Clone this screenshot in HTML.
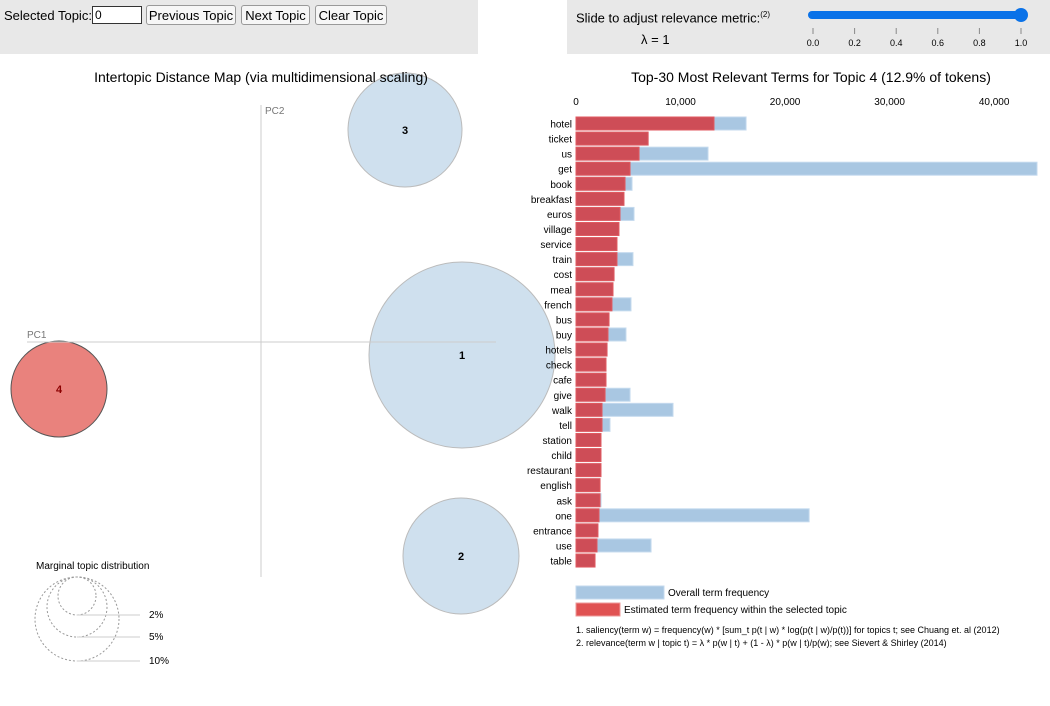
<!DOCTYPE html>
<html><head><meta charset="utf-8"><style>
body{margin:0;width:1050px;height:706px;background:#fff;font-family:"Liberation Sans",sans-serif;overflow:hidden;position:relative}
.panel{position:absolute;background:#e8e8e8}
button{font-family:"Liberation Sans",sans-serif;font-size:13px;height:20px;padding:0;border:1px solid #999;border-radius:3px;background:#f6f6f6;position:absolute;top:5px;text-align:center}
</style></head><body>
<div class="panel" style="left:0;top:0;width:478px;height:54px">
<span style="position:absolute;left:4px;top:8px;font-size:13px">Selected Topic:</span>
<input value="0" style="position:absolute;left:92px;top:6px;width:44px;height:14px;font-size:12px;padding:1px 2px;border:1px solid #333">
<button style="left:146px;width:90px">Previous Topic</button>
<button style="left:241px;width:69px">Next Topic</button>
<button style="left:315px;width:72px">Clear Topic</button>
</div>
<div class="panel" style="left:567px;top:0;width:483px;height:54px">
<span style="position:absolute;left:9px;top:10px;font-size:13px">Slide to adjust relevance metric:<sup style="font-size:8px">(2)</sup></span>
<span style="position:absolute;left:74px;top:32px;font-size:13px">λ = 1</span>
</div>
<svg id="s" width="1050" height="706" style="position:absolute;left:0;top:0" font-family="Liberation Sans, sans-serif">
<g>
<rect x="808" y="11" width="216" height="8" rx="4" fill="#0a72e8"/>
<circle cx="1021" cy="15" r="7" fill="#0a72e8"/>
</g>
<g id="sl"></g>
<g id="circ"></g>
<line x1="261" y1="105" x2="261" y2="577" stroke="#ccc"/>
<line x1="27" y1="342" x2="496" y2="342" stroke="#ccc"/>
<text x="265" y="114" font-size="10" fill="#777">PC2</text>
<text x="27" y="338" font-size="10" fill="#777">PC1</text>
<text x="261" y="82" text-anchor="middle" font-size="14">Intertopic Distance Map (via multidimensional scaling)</text>
<text x="811" y="82" text-anchor="middle" font-size="14">Top-30 Most Relevant Terms for Topic 4 (12.9% of tokens)</text>
<g>
<text x="36" y="569" font-size="10">Marginal topic distribution</text>
<g fill="none" stroke="#999" stroke-dasharray="2,2">
<circle cx="77" cy="596" r="19"/><circle cx="77" cy="607" r="30"/><circle cx="77" cy="619" r="42"/></g>
<g stroke="#ccc"><line x1="77" y1="615" x2="140" y2="615"/><line x1="77" y1="637" x2="140" y2="637"/><line x1="77" y1="661" x2="140" y2="661"/></g>
<g font-size="10"><text x="149" y="618">2%</text><text x="149" y="640">5%</text><text x="149" y="664">10%</text></g>
</g>
<g id="bars"></g>
<g>
<rect x="576" y="586" width="88" height="13" fill="#a9c7e2" stroke="#c4daee"/>
<text x="668" y="596" font-size="10">Overall term frequency</text>
<rect x="576" y="603" width="44" height="13" fill="#e05252" stroke="#e99"/>
<text x="624" y="613" font-size="10">Estimated term frequency within the selected topic</text>
<text x="576" y="633" font-size="9">1. saliency(term w) = frequency(w) * [sum_t p(t | w) * log(p(t | w)/p(t))] for topics t; see Chuang et. al (2012)</text>
<text x="576" y="646" font-size="9">2. relevance(term w | topic t) = λ * p(w | t) + (1 - λ) * p(w | t)/p(w); see Sievert &amp; Shirley (2014)</text>
</g>
</svg>
<script>
const terms=["hotel","ticket","us","get","book","breakfast","euros","village","service","train","cost","meal","french","bus","buy","hotels","check","cafe","give","walk","tell","station","child","restaurant","english","ask","one","entrance","use","table"];
const overall=[16270,6900,12630,44100,5360,4590,5550,4110,3920,5450,3640,3540,5260,3160,4780,2970,2870,2870,5170,9280,3250,2390,2390,2390,2300,2400,22300,2100,7180,1820];
const topicFreq=[13200,6900,6030,5170,4690,4590,4210,4110,3920,3920,3640,3540,3440,3160,3060,2970,2870,2870,2780,2490,2490,2390,2390,2390,2300,2300,2200,2100,2010,1820];
const xTicks=[0,10000,20000,30000,40000];
const sliderTicks=[0,0.2,0.4,0.6,0.8,1.0];
const topicIds=[1,2,3,4];
const topicX=[462,461,405,59];
const topicY=[355,556,130,389];
const topicR=[93,58,57,48];
const NS="http://www.w3.org/2000/svg";
function mk(t,a,p){const e=document.createElementNS(NS,t);for(const k in a)e.setAttribute(k,a[k]);p.appendChild(e);return e;}
const xs=v=>576+v*(1037-576)/44100;
const ys=i=>117+i*15.07;
const bars=document.getElementById('bars');
xTicks.forEach(t=>{const e=mk('text',{x:xs(t),y:105,'text-anchor':'middle','font-size':10},bars);e.textContent=t.toLocaleString('en-US');

});
terms.forEach((w,i)=>{
const b=mk('rect',{x:576,y:ys(i),width:xs(overall[i])-576,height:13,fill:'#a9c7e2',stroke:'#c4daee'},bars);


const r=mk('rect',{x:576,y:ys(i),width:xs(topicFreq[i])-576,height:13,fill:'#d0474f',stroke:'#e05a60','fill-opacity':0.95},bars);


const t=mk('text',{x:572,y:ys(i)+10.5,'text-anchor':'end','font-size':10},bars);t.textContent=w;

});
const sl=document.getElementById('sl');
sliderTicks.forEach(v=>{const x=813+v*(1021-813);
mk('line',{x1:x,y1:28,x2:x,y2:34,stroke:'#888'},sl);
const t=mk('text',{x:x,y:46,'text-anchor':'middle','font-size':9},sl);t.textContent=v.toFixed(1);

});
const circ=document.getElementById('circ');
topicIds.forEach((id,i)=>{const sel=id===4;
const c=mk('circle',{cx:topicX[i],cy:topicY[i],r:topicR[i],fill:sel?'#e9827d':'#cfe0ee',stroke:sel?'#555':'#bbb','stroke-width':1},circ);


const t=mk('text',{x:topicX[i],y:topicY[i]+4,'text-anchor':'middle','font-size':11,'font-weight':'bold',fill:sel?'#8b0000':'#000'},circ);t.textContent=id;

});
</script>
</body></html>
